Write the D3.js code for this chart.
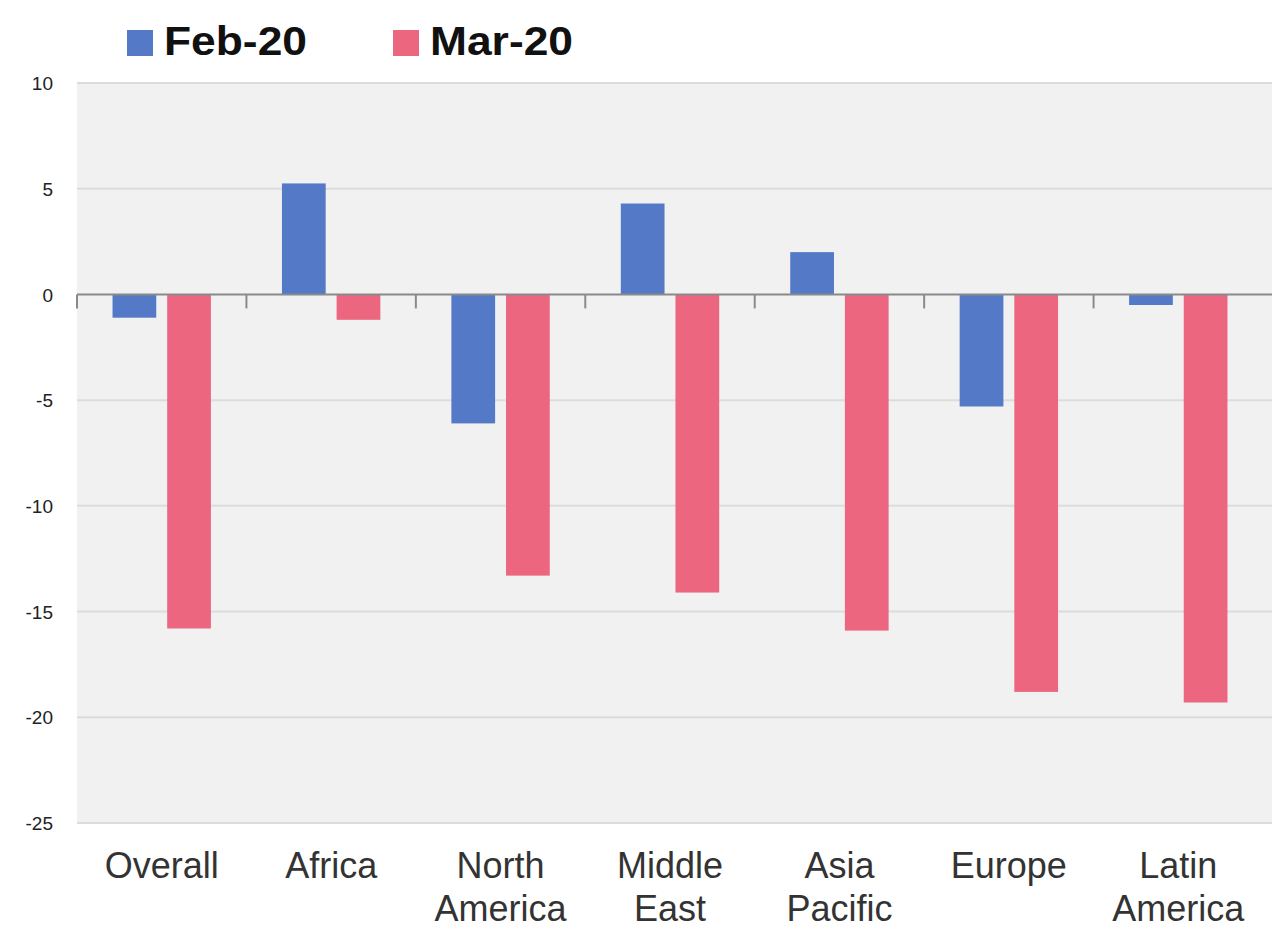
<!DOCTYPE html>
<html>
<head>
<meta charset="utf-8">
<script src="https://cdnjs.cloudflare.com/ajax/libs/d3/7.8.5/d3.min.js"></script>
<style>
  html, body { margin: 0; padding: 0; background: #fff; }
  svg { display: block; font-family: "Liberation Sans", Arial, sans-serif; }
</style>
</head>
<body>
<svg id="chart" width="1272" height="930"></svg>
<script>
const categories = ["Overall", "Africa", "North America", "Middle East", "Asia Pacific", "Europe", "Latin America"];
const catLines = [["Overall"], ["Africa"], ["North", "America"], ["Middle", "East"], ["Asia", "Pacific"], ["Europe"], ["Latin", "America"]];
const seriesNames = ["Feb-20", "Mar-20"];
const feb20 = [-1.1, 5.25, -6.1, 4.3, 2.0, -5.3, -0.5];
const mar20 = [-15.8, -1.2, -13.3, -14.1, -15.9, -18.8, -19.3];
const yTicks = [10, 5, 0, -5, -10, -15, -20, -25];
const colors = ["#5479c6", "#eb667e"];

const svg = d3.select("svg#chart");
const width = +svg.attr("width");
const height = +svg.attr("height");
const plot = {left: 77, right: 1263, top: 83, bottom: 823};

const x = d3.scaleBand()
    .domain(categories)
    .range([plot.left, plot.right]);
const x1 = d3.scaleBand()
    .domain(seriesNames)
    .range([0, x.bandwidth()])
    .paddingInner(0.2)
    .paddingOuter(0.65);
const y = d3.scaleLinear()
    .domain([-25, 10])
    .range([plot.bottom, plot.top]);

// background
svg.append("rect")
    .attr("x", plot.left)
    .attr("y", plot.top)
    .attr("width", width - plot.left)
    .attr("height", plot.bottom - plot.top)
    .attr("fill", "#f1f1f1");

// gridlines
svg.append("g")
  .selectAll("line")
  .data(yTicks.filter(d => d !== 0))
  .enter().append("line")
    .attr("x1", plot.left)
    .attr("x2", width)
    .attr("y1", d => y(d))
    .attr("y2", d => y(d))
    .attr("stroke", "#dcdcdc")
    .attr("stroke-width", 2);

// y axis labels (plain hyphen for negatives, like the original)
const yAxis = svg.append("g")
    .attr("transform", "translate(" + (plot.left - 24) + ",0)")
    .call(d3.axisLeft(y).tickValues(yTicks).tickFormat(d => String(d)).tickSize(0).tickPadding(0));
yAxis.select(".domain").remove();
yAxis.selectAll("text")
    .attr("font-size", 19)
    .attr("font-family", "'Liberation Sans', Arial, sans-serif")
    .attr("fill", "#222")
    .attr("dy", "0.35em");

// bars
const series = [feb20, mar20];
const groups = svg.append("g")
  .selectAll("g")
  .data(series)
  .enter().append("g")
    .attr("fill", (d, i) => colors[i]);

groups.selectAll("rect")
  .data((d, i) => d.map((v, j) => ({cat: categories[j], s: seriesNames[i], v: v})))
  .enter().append("rect")
    .attr("x", d => x(d.cat) + x1(d.s))
    .attr("width", x1.bandwidth())
    .attr("y", d => y(Math.max(0, d.v)))
    .attr("height", d => Math.abs(y(d.v) - y(0)));

// zero axis with tick marks
svg.append("line")
    .attr("x1", plot.left)
    .attr("x2", width)
    .attr("y1", y(0))
    .attr("y2", y(0))
    .attr("stroke", "#8a8a8a")
    .attr("stroke-width", 2);

svg.append("g")
  .selectAll("line")
  .data(categories)
  .enter().append("line")
    .attr("x1", d => x(d))
    .attr("x2", d => x(d))
    .attr("y1", y(0))
    .attr("y2", y(0) + 14)
    .attr("stroke", "#8a8a8a")
    .attr("stroke-width", 2);

// category labels
const catG = svg.append("g")
  .selectAll("text")
  .data(categories)
  .enter().append("text")
    .attr("text-anchor", "middle")
    .attr("font-size", 36)
    .attr("fill", "#333");
catG.each(function(d, i) {
  const t = d3.select(this);
  catLines[i].forEach((line, k) => {
    t.append("tspan")
      .attr("x", x(d) + x.bandwidth() / 2)
      .attr("y", 878 + k * 43)
      .text(line);
  });
});

// legend
const legendX = [127, 393];
const legend = svg.append("g")
  .selectAll("g")
  .data(seriesNames)
  .enter().append("g")
    .attr("transform", (d, i) => "translate(" + legendX[i] + ",0)");
legend.append("rect")
    .attr("x", 0)
    .attr("y", 30)
    .attr("width", 26)
    .attr("height", 26)
    .attr("fill", (d, i) => colors[i]);
legend.append("text")
    .attr("x", 37)
    .attr("y", 55)
    .attr("font-size", 40)
    .attr("font-weight", "bold")
    .attr("fill", "#111")
    .attr("textLength", 143)
    .attr("lengthAdjust", "spacingAndGlyphs")
    .text(d => d);
</script>
</body>
</html>
